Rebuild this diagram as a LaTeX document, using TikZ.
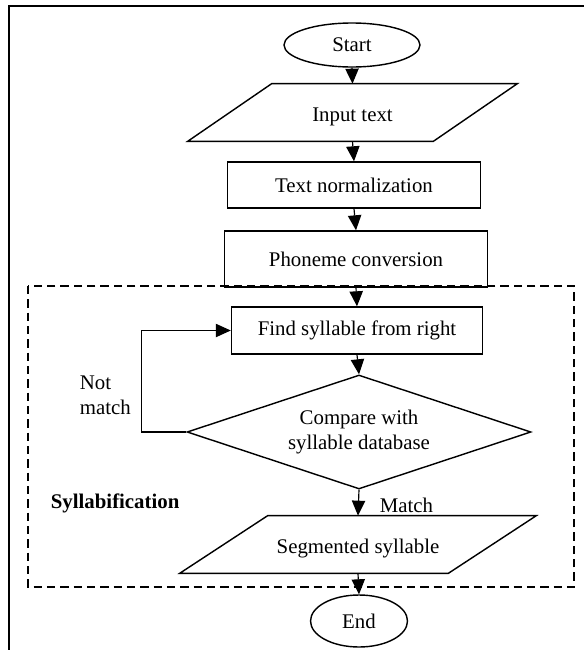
\documentclass[tikz,border=0pt]{standalone}
\usepackage{fontspec}
\setmainfont{Liberation Serif}
\usetikzlibrary{shapes.geometric,arrows.meta}
\tikzset{
	arr/.style={-{Triangle[width=8pt,length=9pt]}, line width=0.7pt},
	procbox/.style={draw, line width=0.85pt, rectangle, inner sep=0pt},
	termbox/.style={draw, line width=0.85pt, ellipse, inner sep=0pt},
	iobox/.style={rectangle, inner sep=0pt, minimum height=34.2pt, text height=13pt, text depth=2.5pt},
	iopath/.style={line width=0.85pt},
	decbox/.style={draw, line width=0.85pt, diamond, aspect=3, inner sep=0pt, align=center}
}
\begin{document}
\begin{tikzpicture}[x=0.6pt, y=-0.6pt, font=\fontsize{12.5}{15}\selectfont]
				\useasboundingbox (0,0) rectangle (584,650);
				\draw[line width=1pt] (584,6) -- (9,6) -- (9,650);
				\draw[dashed, line width=0.8pt, dash pattern=on 5pt off 3pt] (28,286) rectangle (574,587);
				\node[termbox, minimum width=81.6pt, minimum height=26.4pt] (start) at (352,45) {Start};
				\node[iobox, minimum width=147pt] (input) at (352.5,112.5) {Input text};
				\draw[iopath] ([xshift=-25.2pt]input.south west) -- ([xshift=25.2pt]input.north west)
					-- ([xshift=25.2pt]input.north east) -- ([xshift=-25.2pt]input.south east) -- cycle;
				\node[procbox, minimum width=151.8pt, minimum height=27.6pt] (norm) at (354,185) {Text normalization};
				\node[procbox, minimum width=157.8pt, minimum height=33.6pt] (phon) at (356,259) {Phoneme conversion};
				\node[procbox, minimum width=150.6pt, minimum height=28.2pt] (find) at (357,330.5) {Find syllable from right};
				\node[decbox, minimum width=206.4pt, minimum height=68.4pt] (cmp) at (359,432) {Compare with\\syllable database};
				\node[iobox, minimum width=160.8pt] (seg) at (358,544.5) {Segmented syllable};
				\draw[iopath] ([xshift=-26.4pt]seg.south west) -- ([xshift=26.4pt]seg.north west)
					-- ([xshift=26.4pt]seg.north east) -- ([xshift=-26.4pt]seg.south east) -- cycle;
				\node[termbox, minimum width=58.2pt, minimum height=31.2pt] (end) at (359,621) {End};
				\draw[arr] (start.south) -- (input.north);
				\draw[arr] (input.south) -- (norm.north);
				\draw[arr] (norm.south) -- (phon.north);
				\draw[arr] (phon.south) -- (find.north);
				\draw[arr] (find.south) -- (cmp.north);
				\draw[arr] (cmp.south) -- (seg.north);
				\draw[arr] (seg.south) -- (end.north);
				\draw[arr] (cmp.west) -- ++(-45,0) |- (find.west);
				\node[anchor=west, align=left] (nomatch) at (74,395) {Not\\match};
				\node[anchor=west] (yesmatch) at (374,505) {Match};
				\node[anchor=west, font=\fontsize{12.5}{15}\selectfont\bfseries] (sylb) at (45,503) {Syllabification};
			\end{tikzpicture}
\end{document}
